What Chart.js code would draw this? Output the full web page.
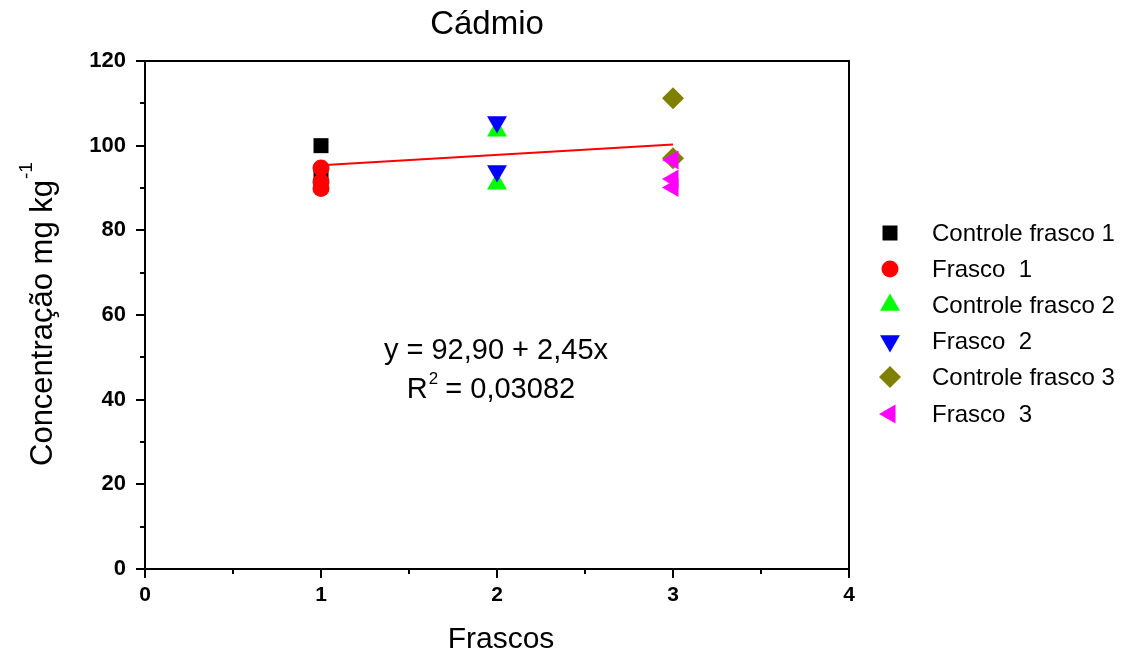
<!DOCTYPE html>
<html>
<head>
<meta charset="utf-8">
<title>Cádmio</title>
<script src="https://cdn.jsdelivr.net/npm/chart.js@4/dist/chart.umd.min.js"></script>
<style>
  html, body { margin: 0; padding: 0; background: #fff; }
  #wrap { width: 1126px; height: 659px; position: relative; }
</style>
</head>
<body>
<div id="wrap"><canvas id="c" width="1126" height="659"></canvas></div>
<script>
// Measured cadmium concentration (mg/kg) per flask
const controle1 = [100.0, 93.3];
const frasco1 = [94.7, 91.4, 89.9];
const controle2 = [103.5, 91.0];
const frasco2 = [105.6, 94.0];
const controle3 = [111.2, 97.0];
const frasco3 = [96.6, 92.1, 90.1];

// Linear fit reported on the chart
const fitIntercept = 92.90;
const fitSlope = 2.45;
const fitRange = [1, 3];
const fitText = 'y = 92,90 + 2,45x';
const r2Text = ' = 0,03082';

const seriesNames = ['Controle frasco 1', 'Frasco  1', 'Controle frasco 2', 'Frasco  2', 'Controle frasco 3', 'Frasco  3'];
const xTicks = [0, 1, 2, 3, 4];
const yTicks = [0, 20, 40, 60, 80, 100, 120];

const FONT = "'Liberation Sans', Arial, Helvetica, sans-serif";

function pts(flask, values) {
  return values.map(v => ({ x: flask, y: v }));
}

const markers = [
  { data: pts(1, controle1), color: '#000000', style: 'rect', radius: 10.6, rotation: 0, order: 2 },
  { data: pts(1, frasco1), color: '#ff0000', style: 'circle', radius: 8.5, rotation: 0, order: 1 },
  { data: pts(2, controle2), color: '#00ff00', style: 'triangle', radius: 11.5, rotation: 0, order: 2 },
  { data: pts(2, frasco2), color: '#0000ff', style: 'triangle', radius: 11.5, rotation: 180, order: 1 },
  { data: pts(3, controle3), color: '#808000', style: 'rectRot', radius: 11, rotation: 0, order: 2 },
  { data: pts(3, frasco3), color: '#ff00ff', style: 'triangle', radius: 11, rotation: -90, order: 1 }
];

const datasets = markers.map((m, i) => ({
  type: 'scatter',
  label: seriesNames[i],
  data: m.data,
  pointStyle: m.style,
  pointRadius: m.radius,
  pointHoverRadius: m.radius,
  pointRotation: m.rotation,
  pointBackgroundColor: m.color,
  pointBorderColor: m.color,
  pointBorderWidth: 0,
  order: m.order
}));

datasets.push({
  type: 'line',
  label: 'fit',
  data: fitRange.map(x => ({ x: x, y: fitIntercept + fitSlope * x })),
  borderColor: '#ff0000',
  borderWidth: 2,
  pointRadius: 0,
  fill: false,
  order: 0
});

// Frame, minor ticks, titles, fit annotation and legend
const decorations = {
  id: 'decorations',
  afterDraw(chart) {
    const ctx = chart.ctx;
    const a = chart.chartArea;
    const xs = chart.scales.x;
    const ys = chart.scales.y;
    ctx.save();
    ctx.strokeStyle = '#000';
    ctx.lineWidth = 2;
    // top and right edges of the frame
    ctx.beginPath();
    ctx.moveTo(a.left, a.top);
    ctx.lineTo(a.right, a.top);
    ctx.lineTo(a.right, a.bottom);
    ctx.stroke();
    // minor ticks
    ctx.beginPath();
    for (let v = 10; v < 120; v += 20) {
      const py = Math.round(ys.getPixelForValue(v));
      ctx.moveTo(a.left - 5, py);
      ctx.lineTo(a.left, py);
    }
    for (let v = 0.5; v < 4; v += 1) {
      const px = Math.round(xs.getPixelForValue(v));
      ctx.moveTo(px, a.bottom);
      ctx.lineTo(px, a.bottom + 5);
    }
    ctx.stroke();

    ctx.fillStyle = '#000';
    // chart title
    ctx.font = '33px ' + FONT;
    ctx.textAlign = 'center';
    ctx.textBaseline = 'alphabetic';
    ctx.fillText('Cádmio', 487, 34);

    // x axis title
    ctx.font = '30px ' + FONT;
    ctx.fillText('Frascos', 501, 648);

    // y axis title with superscript
    ctx.save();
    ctx.translate(52, 0);
    ctx.rotate(-Math.PI / 2);
    ctx.font = '31px ' + FONT;
    ctx.textAlign = 'left';
    const main = 'Concentração mg kg';
    const mw = ctx.measureText(main).width;
    ctx.fillText(main, -466, 0);
    ctx.font = '19px ' + FONT;
    ctx.fillText('-1', -466 + mw + 1, -20);
    ctx.restore();

    // fit annotation
    ctx.font = '29px ' + FONT;
    ctx.textAlign = 'center';
    ctx.fillText(fitText, 496, 359);
    ctx.textAlign = 'left';
    const rw = ctx.measureText('R').width;
    const restW = ctx.measureText(r2Text).width;
    ctx.font = '17px ' + FONT;
    const supW = ctx.measureText('2').width;
    const total = rw + supW + restW;
    const x0 = 491 - total / 2;
    ctx.font = '29px ' + FONT;
    ctx.fillText('R', x0, 398);
    ctx.font = '17px ' + FONT;
    ctx.fillText('2', x0 + rw + 1, 384);
    ctx.font = '29px ' + FONT;
    ctx.fillText(r2Text, x0 + rw + supW, 398);

    // legend
    const rows = [233, 269, 305, 341, 377, 414];
    ctx.font = '24px ' + FONT;
    ctx.textBaseline = 'middle';
    markers.forEach((m, i) => {
      ctx.fillStyle = m.color;
      ctx.strokeStyle = m.color;
      Chart.helpers.drawPoint(ctx, { pointStyle: m.style, radius: m.radius, rotation: m.rotation, borderWidth: 0 }, 890, rows[i]);
      ctx.fillStyle = '#000';
      ctx.fillText(seriesNames[i], 932, rows[i] + 1);
    });
    ctx.restore();
  }
};

new Chart(document.getElementById('c'), {
  type: 'scatter',
  data: { datasets: datasets },
  options: {
    responsive: false,
    animation: false,
    events: [],
    layout: { padding: { left: 0, top: 61, right: 277, bottom: 0 } },
    plugins: {
      legend: { display: false },
      title: { display: false },
      tooltip: { enabled: false }
    },
    scales: {
      x: {
        type: 'linear',
        min: 0,
        max: 4,
        afterBuildTicks(scale) { scale.ticks = xTicks.map(v => ({ value: v })); },
        afterFit(scale) { scale.height = 90; },
        ticks: { color: '#000', padding: 5, font: { family: FONT, size: 21, weight: 'bold' } },
        grid: { drawOnChartArea: false, color: '#000', lineWidth: 2, tickLength: 9 },
        border: { color: '#000', width: 2 }
      },
      y: {
        type: 'linear',
        min: 0,
        max: 120,
        afterBuildTicks(scale) { scale.ticks = yTicks.map(v => ({ value: v })); },
        afterFit(scale) { scale.width = 145; },
        ticks: { color: '#000', padding: 10, font: { family: FONT, size: 22, weight: 'bold' } },
        grid: { drawOnChartArea: false, color: '#000', lineWidth: 2, tickLength: 9 },
        border: { color: '#000', width: 2 }
      }
    }
  },
  plugins: [decorations]
});
</script>
</body>
</html>
